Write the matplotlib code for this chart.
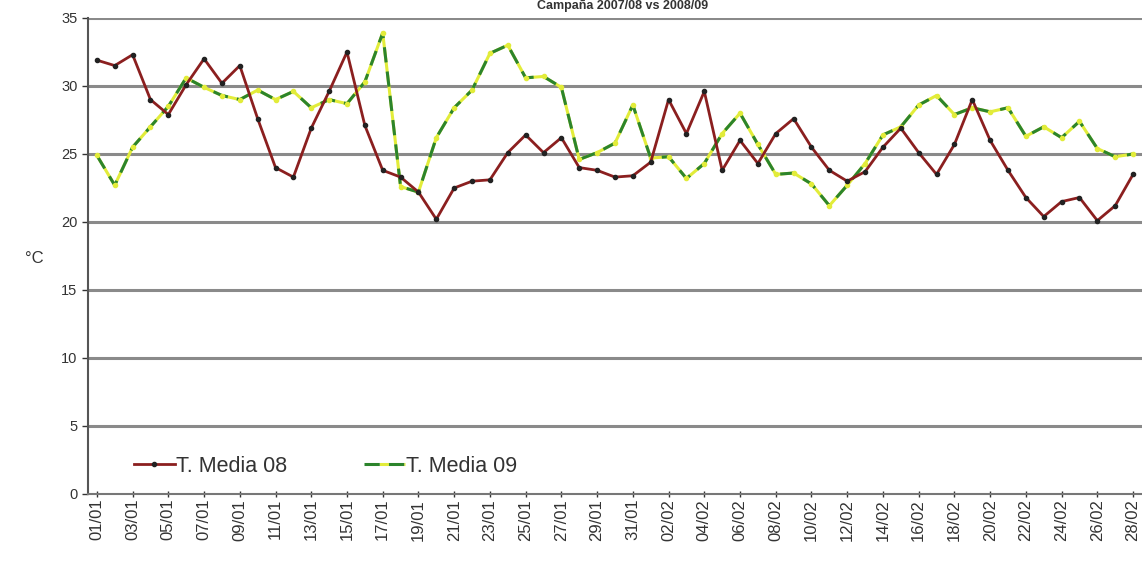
import matplotlib.pyplot as plt
from matplotlib.lines import Line2D
import numpy as np

# daily mean temperature, 01/01 .. 28/02
days = [f"{d:02d}/01" for d in range(1, 32)] + [f"{d:02d}/02" for d in range(1, 29)]

t_media_08 = [31.9, 31.5, 32.3, 29.0, 27.9, 30.1, 32.0, 30.2, 31.5, 27.6,
              24.0, 23.3, 26.9, 29.6, 32.5, 27.1, 23.8, 23.3, 22.2, 20.2,
              22.5, 23.0, 23.1, 25.1, 26.4, 25.1, 26.2, 24.0, 23.8, 23.3,
              23.4, 24.4, 29.0, 26.5, 29.6, 23.8, 26.0, 24.3, 26.5, 27.6,
              25.5, 23.8, 23.0, 23.7, 25.5, 26.9, 25.1, 23.5, 25.7, 29.0,
              26.0, 23.8, 21.8, 20.4, 21.5, 21.8, 20.1, 21.2, 23.5]

t_media_09 = [24.9, 22.7, 25.5, 27.0, 28.5, 30.6, 29.9, 29.3, 29.0, 29.7,
              29.0, 29.6, 28.4, 29.0, 28.7, 30.3, 33.9, 22.6, 22.2, 26.2,
              28.4, 29.7, 32.4, 33.0, 30.6, 30.7, 29.9, 24.6, 25.1, 25.8,
              28.6, 24.7, 24.8, 23.2, 24.3, 26.5, 28.0, 25.7, 23.5, 23.6,
              22.8, 21.2, 22.7, 24.3, 26.4, 27.0, 28.6, 29.3, 27.9, 28.4,
              28.1, 28.4, 26.3, 27.0, 26.2, 27.4, 25.4, 24.8, 25.0]

plt.rcParams['font.family'] = ['Liberation Sans', 'DejaVu Sans']

RED = "#8b1f1f"
GREEN = "#2c842c"
YELLOW = "#e2ec3a"

fig = plt.figure(figsize=(11.42, 5.62), dpi=100)
ax = fig.add_axes([0.077, 0.121, 0.923, 0.847])

x = np.arange(len(days))

# grid lines
for g in range(5, 36, 5):
    ax.axhline(g, color="#8a8a8a", lw=2.2, zorder=1)

ax.plot(x, t_media_08, color=RED, lw=2, marker="o", markersize=3,
        markerfacecolor="#222222", markeredgecolor="#222222", zorder=3)
# green dashes on a yellow line
ax.plot(x, t_media_09, color=YELLOW, lw=2.2, zorder=2)
ax.plot(x, t_media_09, color=GREEN, lw=2.2, dashes=(5, 3), zorder=2.5)
ax.plot(x, t_media_09, ls="none", marker="o", markersize=3,
        markerfacecolor=YELLOW, markeredgecolor=YELLOW, zorder=2.6)

ax.set_xlim(-0.5, 58.5)
ax.set_ylim(0, 35)
ax.set_yticks(range(0, 36, 5))
ax.set_xticks(x[::2])
ax.set_xticklabels(days[::2], rotation=90, fontsize=12, color="#333333")
ax.tick_params(axis="y", labelsize=10.5, colors="#333333", length=4, width=1)
ax.tick_params(axis="x", length=5, width=1, direction="inout", pad=1,
               colors="#333333")

for side in ["top", "right"]:
    ax.spines[side].set_visible(False)
ax.spines["left"].set_color("#555555")
ax.spines["left"].set_linewidth(1.5)
ax.spines["bottom"].set_color("#777777")
ax.spines["bottom"].set_linewidth(1.5)

fig.text(0.03, 0.54, "°C", fontsize=12, color="#333333", ha="center",
         va="center")

# legend handles
h08 = Line2D([], [], color=RED, lw=2, marker="o", markersize=3,
             markerfacecolor="#222222", markeredgecolor="#222222")
h09 = Line2D([], [], color=GREEN, lw=2.2, dashes=(5, 3), gapcolor=YELLOW)
ax.legend([h08, h09], ["T. Media 08", "T. Media 09"], ncol=2, frameon=False,
          loc="lower left", bbox_to_anchor=(0.025, -0.005), fontsize=15.5,
          handlelength=1.9, handletextpad=0.05, columnspacing=3.6,
          labelcolor="#333333")

fig.text(0.545, 1.0, "Campaña 2007/08 vs 2008/09", ha="center", va="top",
         fontsize=9, fontweight="bold", color="#333333")

fig.savefig("out.png", dpi=100)
